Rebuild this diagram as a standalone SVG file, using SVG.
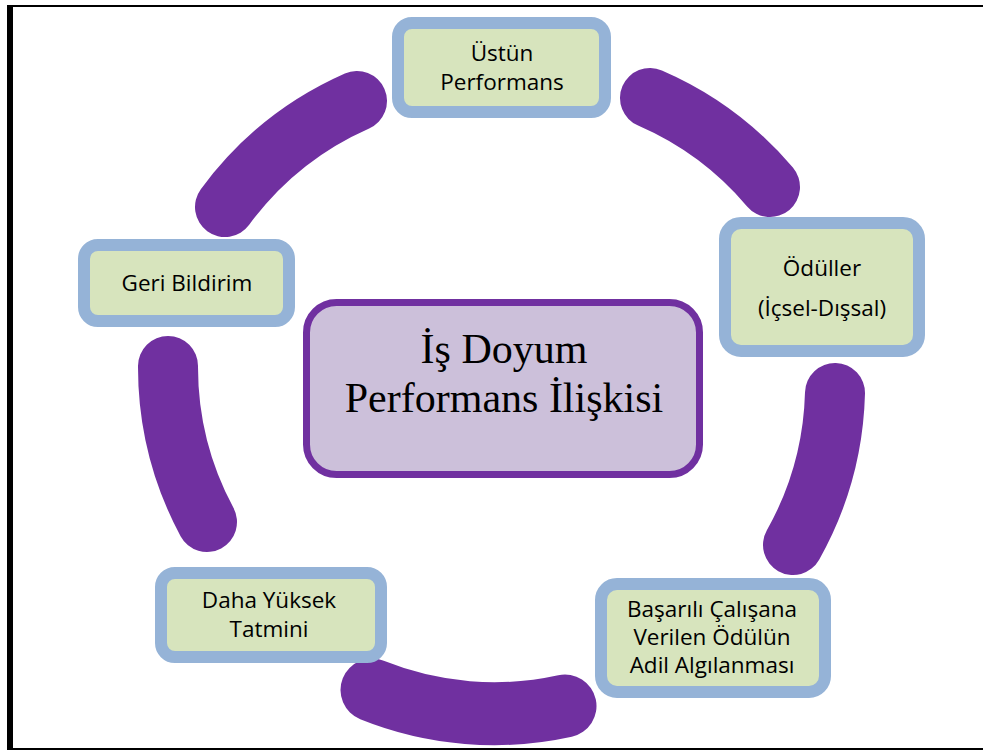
<svg xmlns="http://www.w3.org/2000/svg" width="983" height="751" viewBox="0 0 983 751">
<style>
.arc{fill:none;stroke:#7030A0;stroke-width:60;stroke-linecap:round}
.box{fill:#D7E4BD;stroke:#95B3D7;stroke-width:12}
.t{font-family:"Open Sans","Noto Sans",sans-serif;font-size:22.5px;fill:#000;text-anchor:middle}
.c{font-family:"Liberation Serif","Times New Roman",serif;font-size:42px;fill:#000;text-anchor:middle}
</style>
<rect width="983" height="751" fill="#fff"/>
<g id="frame" stroke="#000" fill="none">
<line x1="7" y1="6" x2="983" y2="6" stroke-width="2"/>
<line x1="10" y1="5" x2="10" y2="750" stroke-width="6"/>
<line x1="7" y1="749" x2="983" y2="749" stroke-width="2"/>
</g>
<g id="connectors">
<path class="arc" d="M225 207 A328 328 0 0 1 357 101"/>
<path class="arc" d="M650 98 A328 328 0 0 1 770 187"/>
<path class="arc" d="M835 393 A328 328 0 0 1 793 545"/>
<path class="arc" style="stroke-width:63" d="M565 706 A328 328 0 0 1 372 690"/>
<path class="arc" d="M207 522 A328 328 0 0 1 168 366"/>
</g>
<g id="center">
<rect x="306.5" y="302.5" width="393" height="172" rx="30" fill="#CCC0DA" stroke="#7030A0" stroke-width="7"/>
<text class="c" x="504" y="363">İş Doyum</text>
<text class="c" x="504" y="412">Performans İlişkisi</text>
</g>
<g id="ustun">
<rect class="box" x="398" y="23" width="207" height="89" rx="14"/>
<text class="t" x="502" y="61">Üstün</text>
<text class="t" x="502" y="90">Performans</text>
</g>
<g id="oduller">
<rect class="box" x="725" y="223" width="194" height="128" rx="16"/>
<text class="t" x="822" y="276">Ödüller</text>
<text class="t" x="822" y="316">(İçsel-Dışsal)</text>
</g>
<g id="basarili">
<rect class="box" x="601" y="584" width="224" height="108" rx="16"/>
<text class="t" x="712" y="617">Başarılı Çalışana</text>
<text class="t" x="712" y="645">Verilen Ödülün</text>
<text class="t" x="712" y="673">Adil Algılanması</text>
</g>
<g id="daha">
<rect class="box" x="161" y="573" width="220" height="84" rx="14"/>
<text class="t" x="269" y="608">Daha Yüksek</text>
<text class="t" x="269" y="637">Tatmini</text>
</g>
<g id="geri">
<rect class="box" x="84" y="245" width="205" height="76" rx="14"/>
<text class="t" x="187" y="291">Geri Bildirim</text>
</g>
</svg>
